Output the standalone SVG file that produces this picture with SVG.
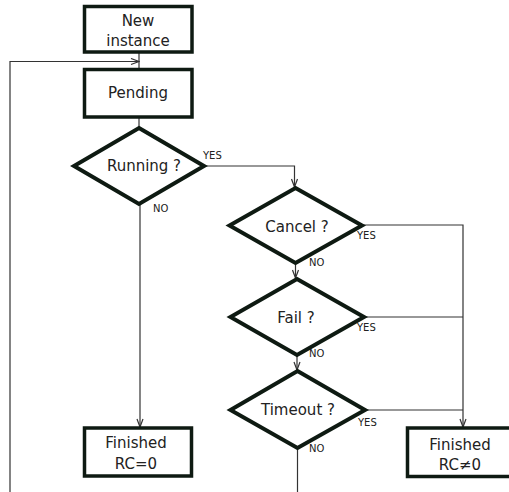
<svg xmlns="http://www.w3.org/2000/svg" width="509" height="492" viewBox="0 0 509 492">
<style>
.box{fill:#fff;stroke:#0e1a12;stroke-width:3.5}
.dia{fill:#fff;stroke:#0e1a12;stroke-width:4;stroke-linejoin:miter}
.ln{fill:none;stroke:#333;stroke-width:1.2}
.t{font-family:"DejaVu Sans",sans-serif;font-size:15px;fill:#222;text-anchor:middle}
.s{font-family:"DejaVu Sans",sans-serif;font-size:10px;fill:#222}
</style>
<defs>
<marker id="a" markerWidth="10" markerHeight="8" refX="9" refY="4" orient="auto" markerUnits="userSpaceOnUse">
<path d="M1,1 L9,4 L1,7" fill="none" stroke="#333" stroke-width="1.2"/>
</marker>
</defs>
<g id="connectors">
<path class="ln" d="M139,53 V68"/>
<path class="ln" d="M10,492 V61.5 H139" marker-end="url(#a)"/>
<path class="ln" d="M139,118 V127"/>
<path class="ln" d="M140,204 V427" marker-end="url(#a)"/>
<path class="ln" d="M204,166 H294.5 V187" marker-end="url(#a)"/>
<path class="ln" d="M362,225 H463 V427" marker-end="url(#a)"/>
<path class="ln" d="M295.5,263 V278" marker-end="url(#a)"/>
<path class="ln" d="M364,317 H463"/>
<path class="ln" d="M297,355 V370" marker-end="url(#a)"/>
<path class="ln" d="M365,410 H463"/>
<path class="ln" d="M297.5,448 V492"/>
<text class="s" x="203" y="159">YES</text>
<text class="s" x="153" y="212">NO</text>
<text class="s" x="357" y="239">YES</text>
<text class="s" x="309" y="266">NO</text>
<text class="s" x="357" y="331">YES</text>
<text class="s" x="309" y="357">NO</text>
<text class="s" x="358" y="426">YES</text>
<text class="s" x="309" y="452">NO</text>
</g>
<g id="new-instance">
<rect class="box" x="84.5" y="6.5" width="107.5" height="45.5"/>
<text class="t" x="138" y="26">New</text>
<text class="t" x="138" y="46">instance</text>
</g>
<g id="pending">
<rect class="box" x="84.5" y="69.5" width="107.5" height="47.5"/>
<text class="t" x="138" y="98">Pending</text>
</g>
<g id="running">
<polygon class="dia" points="139,128 204,166 139,204 74,166"/>
<text class="t" x="144" y="171">Running ?</text>
</g>
<g id="cancel">
<polygon class="dia" points="295.5,188 362,225.5 295.5,263 229.5,225.5"/>
<text class="t" x="297" y="232">Cancel ?</text>
</g>
<g id="fail">
<polygon class="dia" points="297,279 364,317 297,355 230.5,317"/>
<text class="t" x="296" y="323">Fail ?</text>
</g>
<g id="timeout">
<polygon class="dia" points="297.5,371 365,410 297.5,448 230.5,410"/>
<text class="t" x="298" y="415">Timeout ?</text>
</g>
<g id="finished-ok">
<rect class="box" x="84.5" y="428" width="107" height="48"/>
<text class="t" x="136" y="448">Finished</text>
<text class="t" x="136" y="469">RC=0</text>
</g>
<g id="finished-err">
<rect class="box" x="407.5" y="428" width="107" height="48.5"/>
<text class="t" x="460" y="450">Finished</text>
<text class="t" x="460" y="470">RC≠0</text>
</g>
</svg>
